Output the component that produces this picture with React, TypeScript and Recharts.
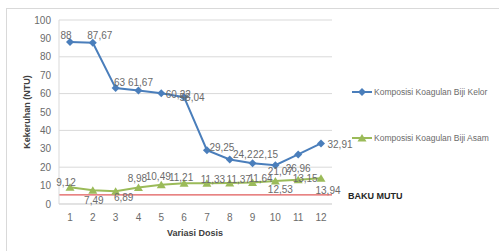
import { LineChart, Line, XAxis, YAxis, CartesianGrid, ReferenceLine, LabelList } from 'recharts';

// Dosis categories and turbidity (NTU) readings
const dosis = ['1', '2', '3', '4', '5', '6', '7', '8', '9', '10', '11', '12'];
const kelor = [88, 87.67, 63, 61.67, 60.22, 58.04, 29.25, 24.2, 22.15, 21.07, 26.96, 32.91];
const asam = [9.12, 7.49, 6.89, 8.98, 10.49, 11.21, 11.33, 11.37, 11.64, 12.53, 13.15, 13.94];
const bakuMutu = 5;
const yTicks = [0, 10, 20, 30, 40, 50, 60, 70, 80, 90, 100];

// label nudges (dx, dy) so the data labels sit roughly where Excel put them
const kelorLabelOffsets: [number, number][] = [
  [-4, -7], [7, -7], [4, -6], [2, -8], [17, 1], [8, 0],
  [15, -3], [13, -5], [13, -9], [5, 6], [0, 14], [19, 1],
];
const asamLabelOffsets: [number, number][] = [
  [-4, -5], [1, 10], [8, 6], [-1, -9], [-3, -8], [-3, -6],
  [6, -4], [9, -4], [8, -4], [5, 9], [7, -1], [7, 12],
];

const data = dosis.map((d, i) => ({ dosis: d, kelor: kelor[i], asam: asam[i] }));

const BLUE = '#4a7ebb';
const GREEN = '#9bbb59';
const RED = '#e05a5a';
const TEXT = '#6b6b6b';
const FONT = '"Liberation Sans", Arial, sans-serif';

const fmt = (v: number) => String(v).replace('.', ',');

const makeLabel = (offsets: [number, number][]) => (props: any) => {
  const { x, y, value, index } = props;
  const [dx, dy] = offsets[index] ?? [0, 0];
  return (
    <text
      x={x + dx}
      y={y + dy}
      textAnchor="middle"
      dominantBaseline="central"
      fontSize={10}
      fill={TEXT}
      fontFamily={FONT}
    >
      {fmt(value)}
    </text>
  );
};

const Diamond = (props: any) => {
  const { cx, cy } = props;
  if (cx == null || cy == null) return null;
  return <path d={`M${cx},${cy - 4}L${cx + 4},${cy}L${cx},${cy + 4}L${cx - 4},${cy}Z`} fill={BLUE} />;
};

const Triangle = (props: any) => {
  const { cx, cy } = props;
  if (cx == null || cy == null) return null;
  return <path d={`M${cx},${cy - 4}L${cx + 4.5},${cy + 3.5}L${cx - 4.5},${cy + 3.5}Z`} fill={GREEN} />;
};

export default function App() {
  return (
    <div
      style={{
        position: 'fixed',
        left: 0,
        top: 0,
        width: 499,
        height: 251,
        background: '#fff',
        fontFamily: FONT,
      }}
    >
      {/* chart frame (only top/left edges visible in the crop) */}
      <div
        style={{
          position: 'absolute',
          left: 6,
          top: 8,
          right: 0,
          bottom: 0,
          borderTop: '1px solid #d9d9d9',
          borderLeft: '1px solid #d9d9d9',
        }}
      />
      <div style={{ position: 'absolute', left: 0, top: 0 }}>
        <LineChart width={499} height={251} data={data} margin={{ top: 20, right: 167, left: 29, bottom: 17 }}>
          <CartesianGrid horizontal vertical={false} stroke="#d9d9d9" />
          <XAxis
            dataKey="dosis"
            height={30}
            padding={{ left: 11, right: 11 }}
            axisLine={{ stroke: '#d9d9d9' }}
            tickLine={false}
            tick={{ fontSize: 10, fill: TEXT, fontFamily: FONT }}
            tickMargin={4}
          />
          <YAxis
            domain={[0, 100]}
            ticks={yTicks}
            width={30}
            axisLine={{ stroke: '#d9d9d9' }}
            tickLine={false}
            tick={{ fontSize: 10, fill: TEXT, fontFamily: FONT }}
            tickMargin={2}
          />
          <ReferenceLine y={bakuMutu} stroke={RED} strokeWidth={1.2} />
          <Line
            type="linear"
            dataKey="kelor"
            stroke={BLUE}
            strokeWidth={2}
            dot={<Diamond />}
            activeDot={false}
            isAnimationActive={false}
          >
            <LabelList dataKey="kelor" content={makeLabel(kelorLabelOffsets)} />
          </Line>
          <Line
            type="linear"
            dataKey="asam"
            stroke={GREEN}
            strokeWidth={2}
            dot={<Triangle />}
            activeDot={false}
            isAnimationActive={false}
          >
            <LabelList dataKey="asam" content={makeLabel(asamLabelOffsets)} />
          </Line>
        </LineChart>
      </div>

      {/* axis titles + legend */}
      <svg style={{ position: 'absolute', left: 0, top: 0 }} width={499} height={251}>
        <text
          x={195}
          y={233}
          textAnchor="middle"
          dominantBaseline="central"
          fontSize={9}
          fontWeight="bold"
          fill="#404040"
          fontFamily={FONT}
        >
          Variasi Dosis
        </text>
        <text
          transform="translate(27,112) rotate(-90)"
          textAnchor="middle"
          dominantBaseline="central"
          fontSize={9}
          fontWeight="bold"
          fill="#404040"
          fontFamily={FONT}
        >
          Kekeruhan (NTU)
        </text>
        <line x1={352} y1={92} x2={372} y2={92} stroke={BLUE} strokeWidth={2} />
        <Diamond cx={362} cy={92} />
        <text x={374} y={92} dominantBaseline="central" fontSize={8.5} fill={TEXT} fontFamily={FONT}>
          Komposisi  Koagulan Biji Kelor
        </text>
        <line x1={352} y1={138} x2={372} y2={138} stroke={GREEN} strokeWidth={2} />
        <Triangle cx={362} cy={138} />
        <text x={374} y={138} dominantBaseline="central" fontSize={8.5} fill={TEXT} fontFamily={FONT}>
          Komposisi Koagulan Biji Asam
        </text>
        <text x={348} y={196} dominantBaseline="central" fontSize={9} fontWeight="bold" fill="#262626" fontFamily={FONT}>
          BAKU MUTU
        </text>
      </svg>
    </div>
  );
}
